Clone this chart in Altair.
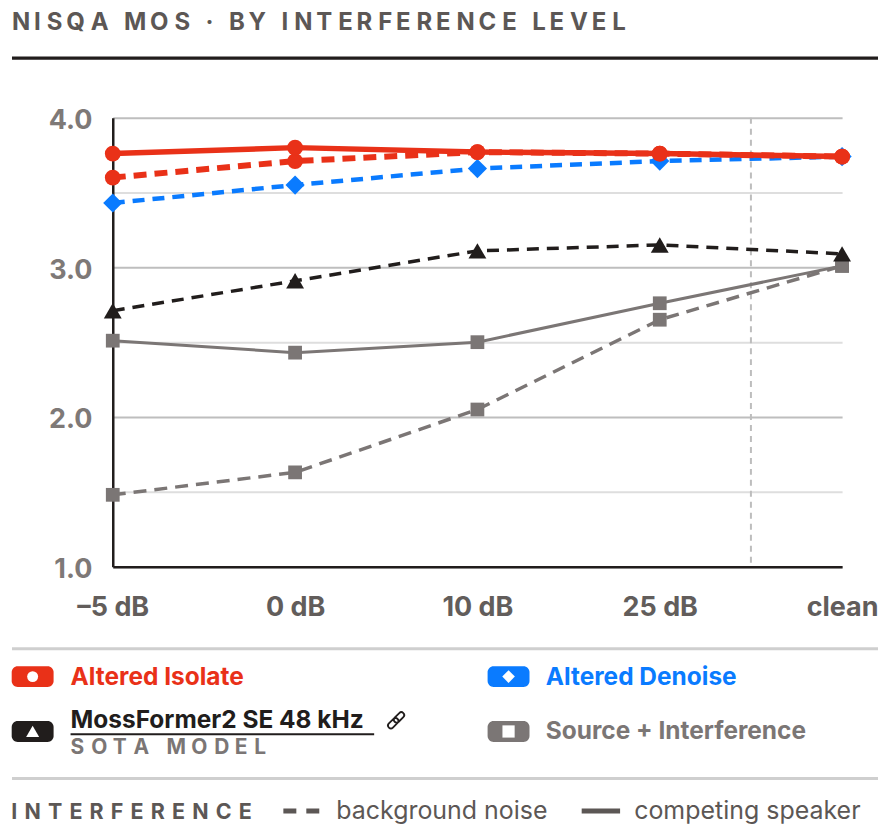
import json
from itertools import cycle

import altair as alt
import pandas as pd

# interference levels along the x axis
levels = ["–5 dB", "0 dB", "10 dB", "25 dB", "clean"]

# NISQA MOS
isolate_speaker = [3.76, 3.80, 3.77, 3.76, 3.74]
isolate_noise = [3.60, 3.71, 3.77, 3.76, 3.74]
denoise_noise = [3.43, 3.55, 3.66, 3.71, 3.74]
mossformer_noise = [2.71, 2.91, 3.11, 3.15, 3.09]
source_speaker = [2.51, 2.43, 2.50, 2.76, 3.01]
source_noise = [1.48, 1.63, 2.05, 2.65, 3.01]

systems = ["Altered Isolate", "Altered Denoise", "MossFormer2 SE 48 kHz", "Source + Interference"]
interference = ["background noise", "competing speaker"]
grid_values = [1.0, 1.5, 2.0, 2.5, 3.0, 3.5, 4.0]
divider = [3.5]  # between the graded levels and "clean"

FONT = "Inter"
RED, BLUE, INK, GREY, TEXT = "#E93118", "#0A7BFF", "#211D1C", "#7B7675", "#5C5755"
W, H = 731, 450

x_enc = alt.X(
    "step:Q",
    scale=alt.Scale(domain=[0, len(levels) - 1], nice=False, zero=False),
    axis=alt.Axis(
        values=list(range(len(levels))),
        labelExpr=json.dumps(levels) + "[datum.value]",
        title=None, grid=False, ticks=False, tickSize=0,
        domainColor=INK, domainWidth=2.5,
        labelFont=FONT, labelFontSize=27, labelFontWeight="bold",
        labelColor="#625D5B", labelPadding=28,
        labelFlush=False, labelOverlap=False,
    ),
)
y_enc = alt.Y(
    "mos:Q",
    scale=alt.Scale(domain=[1, 4], nice=False, zero=False),
    axis=alt.Axis(
        values=grid_values,
        labelExpr="datum.value % 1 === 0 ? format(datum.value, '.1f') : ''",
        title=None, ticks=False, tickSize=0,
        gridColor={"condition": {"test": "datum.value % 1 === 0", "value": "#BEBEBE"},
                   "value": "#DEDEDE"},
        gridWidth=2,
        domainColor=INK, domainWidth=2.5,
        labelFont=FONT, labelFontSize=27, labelFontWeight="bold",
        labelColor="#7E7977", labelPadding=21, labelOffset=3,
    ),
)


def series(values, system, interf, color, shape, size, width, dash=None):
    df = pd.DataFrame({
        "step": range(len(levels)),
        "level": levels,
        "mos": values,
        "system": system,
        "interference": interf,
    })
    base = alt.Chart(df).encode(x=x_enc, y=y_enc)
    opts = dict(color=color, strokeWidth=width)
    if dash:
        opts["strokeDash"] = dash
    line = base.mark_line(**opts)
    pts = base.mark_point(shape=shape, size=size, filled=True, color=color, opacity=1)
    return line + pts


def one():
    return alt.Chart(pd.DataFrame({"k": [0]}))


def spaced(t, seps=("\u2009", "\u2005")):
    # no letter-spacing in Vega text marks, so pad with narrow spaces
    sep = cycle(seps)
    return "".join(c + next(sep) for c in t[:-1]) + t[-1]


def text(t, x, y, size, color, weight="normal"):
    return alt.Chart(pd.DataFrame({"t": [t]})).mark_text(
        align="left", baseline="alphabetic", font=FONT, fontSize=size,
        fontWeight=weight, color=color,
    ).encode(x=alt.value(x), y=alt.value(y), text="t:N")


def hline(x1, x2, y, color, width, dash=None):
    opts = dict(color=color, strokeWidth=width)
    if dash:
        opts["strokeDash"] = dash
    return one().mark_rule(**opts).encode(x=alt.value(x1), x2=alt.value(x2), y=alt.value(y))


def badge(x1, y1, color, shape, size):
    box = one().mark_rect(color=color, cornerRadius=6).encode(
        x=alt.value(x1), x2=alt.value(x1 + 42), y=alt.value(y1), y2=alt.value(y1 + 21))
    sym = one().mark_point(shape=shape, size=size, filled=True, color="white", opacity=1).encode(
        x=alt.value(x1 + 21), y=alt.value(y1 + 10.5))
    return box + sym


LINK = ("M-0.72,-0.28 L-0.08,-0.28 A0.28,0.28 0 0 1 -0.08,0.28 L-0.72,0.28 "
        "A0.28,0.28 0 0 1 -0.72,-0.28 Z M0.08,-0.28 L0.72,-0.28 "
        "A0.28,0.28 0 0 1 0.72,0.28 L0.08,0.28 A0.28,0.28 0 0 1 0.08,-0.28 Z")

div = alt.Chart(pd.DataFrame({"step": divider})).mark_rule(
    color="#BDBDBD", strokeWidth=2, strokeDash=[6, 5]
).encode(x="step:Q")

lines = [
    series(source_noise, systems[3], interference[0], GREY, "square", 190, 3.5, [13, 8]),
    series(source_speaker, systems[3], interference[1], GREY, "square", 190, 3),
    series(mossformer_noise, systems[2], interference[0], INK, "triangle-up", 320, 3.5, [12, 8]),
    series(denoise_noise, systems[1], interference[0], BLUE, "diamond", 370, 4.5, [12, 8]),
    series(isolate_noise, systems[0], interference[0], RED, "circle", 250, 6, [13, 8]),
    series(isolate_speaker, systems[0], interference[1], RED, "circle", 250, 5.5),
]

deco = [
    text(spaced("NISQA MOS · BY INTERFERENCE LEVEL"), -101, -87.5, 24, TEXT, "bold"),
    hline(-101, 773, -59.7, INK, 3.3),
    hline(-101, 773, 532.3, "#CFCFCF", 3),
    hline(-101, 773, 662.3, "#CFCFCF", 3),
    badge(-101.3, 549.7, RED, "circle", 120),
    text(systems[0], -42.3, 568.7, 24.5, RED, "bold"),
    badge(375.7, 549.7, BLUE, "diamond", 160),
    text(systems[1], 434, 568.7, 24.5, BLUE, "bold"),
    badge(-101.3, 604.7, INK, "triangle-up", 170),
    text(systems[2], -42.3, 612, 24.5, INK, "bold"),
    hline(-42.3, 262, 618, INK, 2),
    one().mark_point(shape=LINK, size=420, filled=False, color=INK, strokeWidth=1.8,
                     angle=315, opacity=1).encode(x=alt.value(284), y=alt.value(604)),
    text(spaced("SOTA MODEL", ("\u2004", "\u2005")), -42.3, 638, 21, GREY, "bold"),
    badge(375.7, 604.7, GREY, "square", 150),
    text(systems[3], 434, 622.3, 24.5, GREY, "bold"),
    text(spaced("INTERFERENCE", ("\u2004",)), -101.7, 703, 21.5, TEXT, "bold"),
    hline(171, 207, 695, TEXT, 5, [13, 10]),
    text(interference[0], 224, 703, 25, TEXT),
    hline(470, 508.5, 695, TEXT, 5),
    text(interference[1], 522.6, 703, 25, TEXT),
]

chart = alt.layer(div, *lines, *deco).properties(
    width=W,
    height=H,
    autosize=alt.AutoSizeParams(type="none"),
    padding={"left": 105, "top": 109, "right": 36, "bottom": 260},
).configure_view(stroke=None)

chart.save("out.html", embed_options={"renderer": "svg", "actions": False})
